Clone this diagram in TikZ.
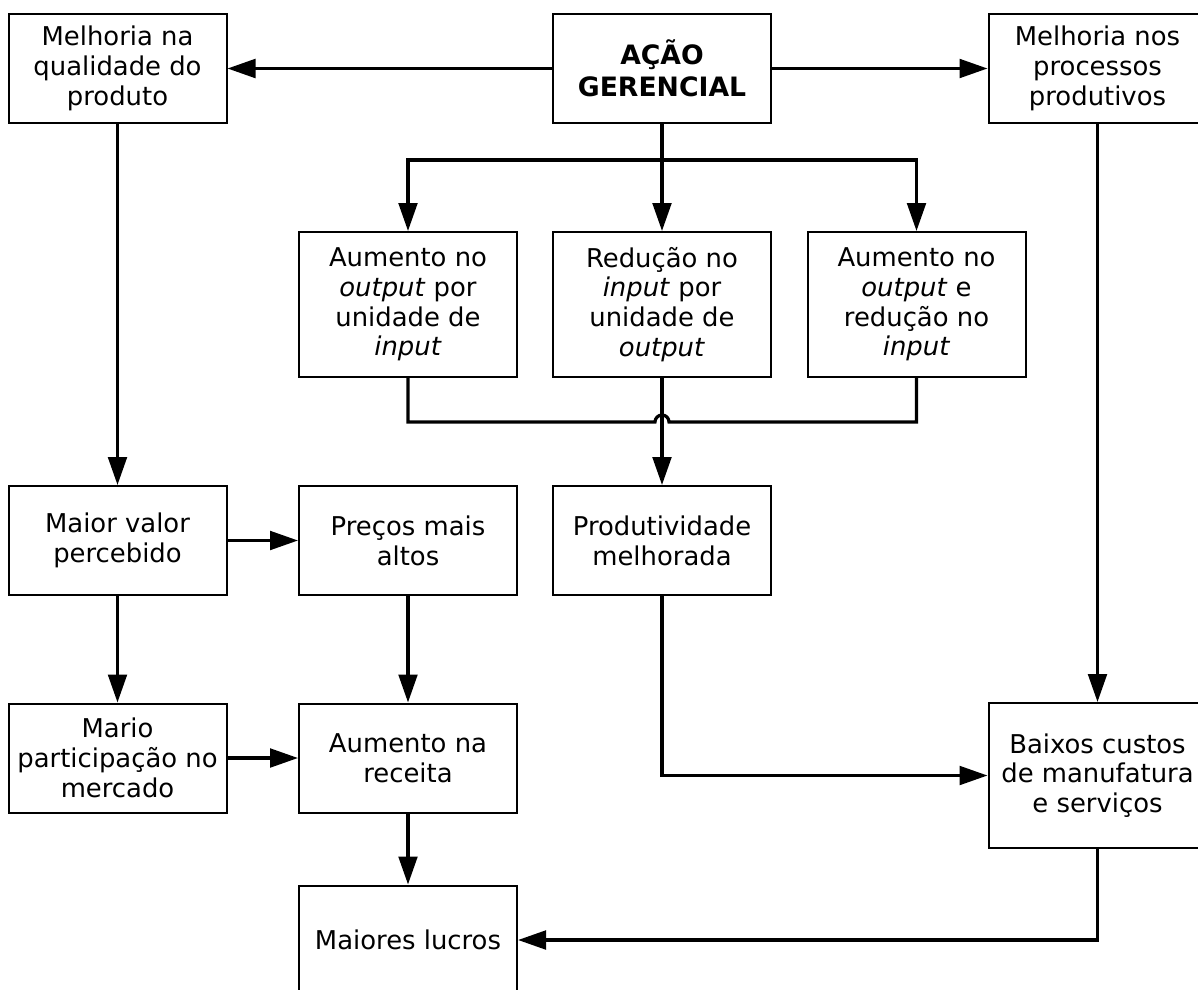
\documentclass[tikz,border=0pt]{standalone}
\usepackage{fontspec}
\setmainfont{DejaVu Sans}
\usetikzlibrary{arrows.meta}
\begin{document}
\begin{tikzpicture}[x=0.75pt,y=-0.75pt,
  box/.style={draw, line width=1.5pt, align=center, inner sep=0pt,
    minimum width=163.5pt, font=\fontsize{19.4}{22.3}\selectfont},
  shortbox/.style={box, minimum height=81.75pt},
  tallbox/.style={box, minimum height=108.75pt},
  link/.style={line width=2.4pt},
  arr/.style={link, -{Triangle[length=21pt,width=14pt]}}]
\useasboundingbox (0,0) rectangle (1198,989);
\clip (0,0) rectangle (1198,989);

% top row
\node[shortbox] (q) at (117.5,68.5) {Melhoria na\\qualidade do\\produto};
\node[shortbox, font=\fontsize{20}{24}\selectfont\bfseries] (a) at (662,68.5) {AÇÃO\\GERENCIAL};
\node[shortbox] (p) at (1097.5,68.5) {Melhoria nos\\processos\\produtivos};

% productivity options
\node[tallbox] (r1) at (408,304.5) {Aumento no\\\textit{output} por\\unidade de\\\textit{input}};
\node[tallbox] (r2) at (662,304.5) {Redução no\\\textit{input} por\\unidade de\\\textit{output}};
\node[tallbox] (r3) at (916.5,304.5) {Aumento no\\\textit{output} e\\redução no\\\textit{input}};

% middle row
\node[shortbox] (mv) at (117.5,540.5) {Maior valor\\percebido};
\node[shortbox] (pr) at (408,540.5) {Preços mais\\altos};
\node[shortbox] (pm) at (662,540.5) {Produtividade\\melhorada};

% lower rows
\node[shortbox] (mp) at (117.5,758) {Mario\\participação no\\mercado};
\node[shortbox] (ar) at (408,758) {Aumento na\\receita};
\node[tallbox] (bc) at (1097.5,775.5) {Baixos custos\\de manufatura\\e serviços};
\node[shortbox] (ml) at (408,940) {Maiores lucros};

% connectors from the management action
\draw[arr] (a) -- (q);
\draw[arr] (a) -- (p);
\coordinate (br) at (662,160);
\draw[arr] (a.south) -- (r2.north);
\draw[arr] (br) -| (r1.north);
\draw[arr] (br) -| (r3.north);

% joining line with a jump over the central arrow
\coordinate (jl) at (655,422);
\draw[link, line join=miter] (r1.south) |- (jl) arc[start angle=180, end angle=0, radius=5.25pt] -| (r3.south);
\draw[arr] (r2.south) -- (pm.north);

% left branch
\draw[arr] (q.south) -- (mv.north);
\draw[arr] (mv.east) -- (pr.west);
\draw[arr] (mv.south) -- (mp.north);
\draw[arr] (pr.south) -- (ar.north);
\draw[arr] (mp.east) -- (ar.west);
\draw[arr] (ar.south) -- (ml.north);

% right branch
\draw[arr] (p.south) -- (bc.north);
\draw[arr] (pm.south) |- (bc.west);
\draw[arr] (bc.south) |- (ml.east);
\end{tikzpicture}
\end{document}
